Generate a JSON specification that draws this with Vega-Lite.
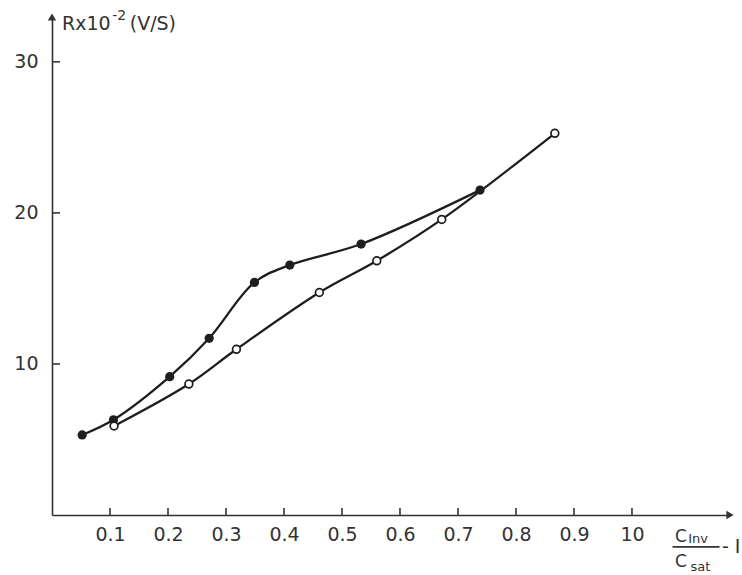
{
  "$schema": "https://vega.github.io/schema/vega-lite/v6.json",
  "width": 678,
  "height": 498,
  "autosize": {"type": "none"},
  "padding": {"left": 52, "top": 17, "right": 12, "bottom": 60},
  "background": "white",
  "config": {
    "view": {"stroke": null},
    "font": "DejaVu Sans",
    "axis": {"grid": false, "ticks": false, "domainColor": "#333", "domainWidth": 1.6, "labelColor": "#333", "labelFont": "DejaVu Sans", "labelFontSize": 19, "title": null}
  },
  "datasets": {
    "curves": [
      {"x": 0.052, "y": 5.30, "series": "filled"},
      {"x": 0.106, "y": 6.30, "series": "filled"},
      {"x": 0.203, "y": 9.16, "series": "filled"},
      {"x": 0.271, "y": 11.70, "series": "filled"},
      {"x": 0.349, "y": 15.40, "series": "filled"},
      {"x": 0.410, "y": 16.55, "series": "filled"},
      {"x": 0.533, "y": 17.94, "series": "filled"},
      {"x": 0.738, "y": 21.51, "series": "filled"},
      {"x": 0.107, "y": 5.89, "series": "open"},
      {"x": 0.236, "y": 8.67, "series": "open"},
      {"x": 0.318, "y": 10.97, "series": "open"},
      {"x": 0.461, "y": 14.73, "series": "open"},
      {"x": 0.560, "y": 16.83, "series": "open"},
      {"x": 0.672, "y": 19.57, "series": "open"},
      {"x": 0.867, "y": 25.27, "series": "open"}
    ],
    "xticks": [{"t": 0.1}, {"t": 0.2}, {"t": 0.3}, {"t": 0.4}, {"t": 0.5}, {"t": 0.6}, {"t": 0.7}, {"t": 0.8}, {"t": 0.9}, {"t": 1.0}],
    "yticks": [{"t": 10}, {"t": 20}, {"t": 30}],
    "one": [{}]
  },
  "layer": [
    {
      "data": {"name": "curves"},
      "mark": {"type": "line", "interpolate": "catmull-rom", "color": "#1e1e1e", "strokeWidth": 2.3},
      "encoding": {
        "x": {"field": "x", "type": "quantitative", "scale": {"domain": [0, 1.169], "nice": false, "zero": true},
          "axis": {"values": [0.1,0.2,0.3,0.4,0.5,0.6,0.7,0.8,0.9,1.0], "labelPadding": 10, "labelExpr": "datum.value == 1 ? '10' : format(datum.value, '.1f')"}},
        "y": {"field": "y", "type": "quantitative", "scale": {"domain": [0, 32.97], "nice": false},
          "axis": {"values": [10, 20, 30], "labelPadding": 14}},
        "detail": {"field": "series"}
      }
    },
    {
      "data": {"name": "xticks"},
      "mark": {"type": "rule", "color": "#333", "strokeWidth": 1.6},
      "encoding": {"x": {"field": "t", "type": "quantitative"}, "y": {"datum": 0, "type": "quantitative"}, "y2": {"datum": 0.46}}
    },
    {
      "data": {"name": "yticks"},
      "mark": {"type": "rule", "color": "#333", "strokeWidth": 1.6},
      "encoding": {"y": {"field": "t", "type": "quantitative"}, "x": {"datum": 0, "type": "quantitative"}, "x2": {"datum": 0.0138}}
    },
    {
      "data": {"name": "curves"},
      "transform": [{"filter": "datum.series == 'filled'"}],
      "mark": {"type": "point", "shape": "circle", "filled": true, "color": "#1e1e1e", "size": 85, "opacity": 1},
      "encoding": {
        "x": {"field": "x", "type": "quantitative"},
        "y": {"field": "y", "type": "quantitative"}
      }
    },
    {
      "data": {"name": "curves"},
      "transform": [{"filter": "datum.series == 'open'"}],
      "mark": {"type": "point", "shape": "circle", "filled": false, "fill": "white", "fillOpacity": 1, "stroke": "#1e1e1e", "strokeWidth": 1.7, "size": 60, "opacity": 1},
      "encoding": {
        "x": {"field": "x", "type": "quantitative"},
        "y": {"field": "y", "type": "quantitative"}
      }
    },
    {
      "data": {"name": "one"},
      "mark": {"type": "point", "shape": "triangle-up", "filled": true, "color": "#333", "size": 70, "opacity": 1, "dy": 3},
      "encoding": {"x": {"datum": 0, "type": "quantitative"}, "y": {"datum": 32.97, "type": "quantitative"}}
    },
    {
      "data": {"name": "one"},
      "mark": {"type": "point", "shape": "triangle-right", "filled": true, "color": "#333", "size": 70, "opacity": 1, "dx": -3},
      "encoding": {"x": {"datum": 1.169, "type": "quantitative"}, "y": {"datum": 0, "type": "quantitative"}}
    },
    {
      "data": {"name": "one"},
      "mark": {"type": "text", "align": "left", "baseline": "alphabetic", "fontSize": 19, "color": "#333", "font": "DejaVu Sans"},
      "encoding": {"x": {"datum": 0.0172, "type": "quantitative"}, "y": {"datum": 32.1, "type": "quantitative"}, "text": {"value": "Rx10"}}
    },
    {
      "data": {"name": "one"},
      "mark": {"type": "text", "align": "left", "baseline": "alphabetic", "fontSize": 14, "color": "#333", "font": "DejaVu Sans"},
      "encoding": {"x": {"datum": 0.104, "type": "quantitative"}, "y": {"datum": 32.75, "type": "quantitative"}, "text": {"value": "-2"}}
    },
    {
      "data": {"name": "one"},
      "mark": {"type": "text", "align": "left", "baseline": "alphabetic", "fontSize": 19, "color": "#333", "font": "DejaVu Sans"},
      "encoding": {"x": {"datum": 0.134, "type": "quantitative"}, "y": {"datum": 32.1, "type": "quantitative"}, "text": {"value": "(V/S)"}}
    },
    {
      "data": {"name": "one"},
      "mark": {"type": "text", "align": "left", "baseline": "alphabetic", "fontSize": 17, "color": "#333", "font": "DejaVu Sans"},
      "encoding": {"x": {"datum": 1.074, "type": "quantitative"}, "y": {"datum": -1.77, "type": "quantitative"}, "text": {"value": "C"}}
    },
    {
      "data": {"name": "one"},
      "mark": {"type": "text", "align": "left", "baseline": "alphabetic", "fontSize": 13, "color": "#333", "font": "DejaVu Sans"},
      "encoding": {"x": {"datum": 1.097, "type": "quantitative"}, "y": {"datum": -1.85, "type": "quantitative"}, "text": {"value": "Inv"}}
    },
    {
      "data": {"name": "one"},
      "mark": {"type": "rule", "color": "#333", "strokeWidth": 1.8},
      "encoding": {"x": {"datum": 1.070, "type": "quantitative"}, "x2": {"datum": 1.151}, "y": {"datum": -2.11, "type": "quantitative"}}
    },
    {
      "data": {"name": "one"},
      "mark": {"type": "text", "align": "left", "baseline": "alphabetic", "fontSize": 17, "color": "#333", "font": "DejaVu Sans"},
      "encoding": {"x": {"datum": 1.074, "type": "quantitative"}, "y": {"datum": -3.44, "type": "quantitative"}, "text": {"value": "C"}}
    },
    {
      "data": {"name": "one"},
      "mark": {"type": "text", "align": "left", "baseline": "alphabetic", "fontSize": 13, "color": "#333", "font": "DejaVu Sans"},
      "encoding": {"x": {"datum": 1.101, "type": "quantitative"}, "y": {"datum": -3.73, "type": "quantitative"}, "text": {"value": "sat"}}
    },
    {
      "data": {"name": "one"},
      "mark": {"type": "text", "align": "left", "baseline": "middle", "fontSize": 19, "color": "#333", "font": "DejaVu Sans"},
      "encoding": {"x": {"datum": 1.155, "type": "quantitative"}, "y": {"datum": -2.15, "type": "quantitative"}, "text": {"value": "- I"}}
    }
  ]
}
